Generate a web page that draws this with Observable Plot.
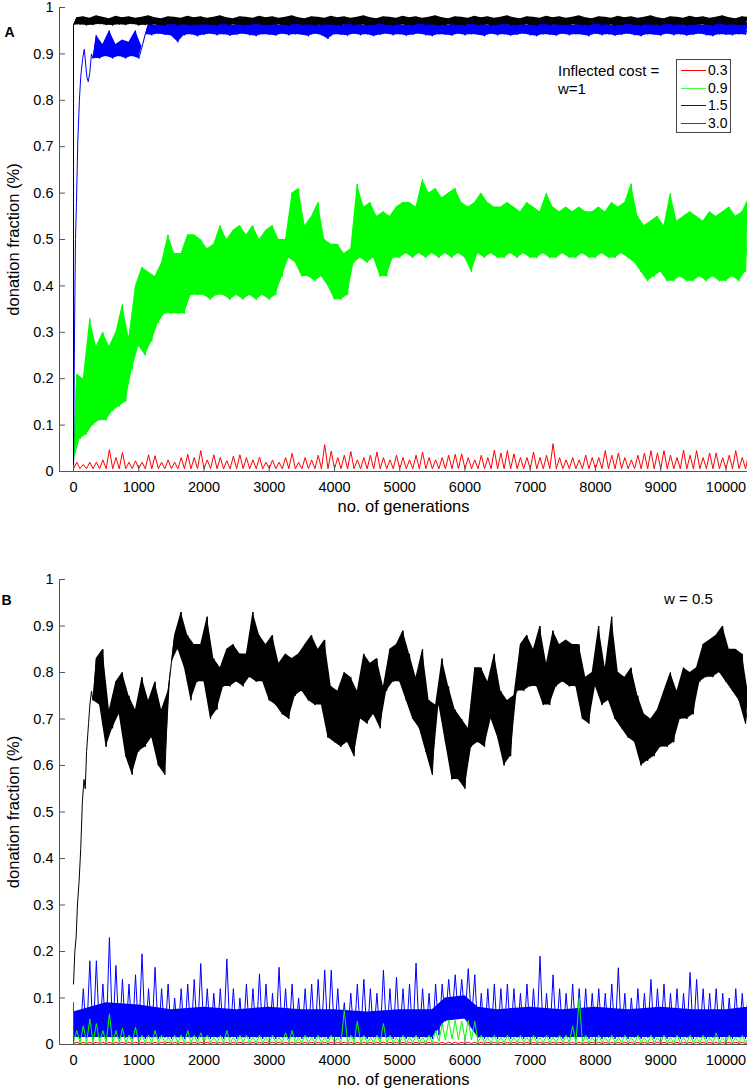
<!DOCTYPE html>
<html><head><meta charset="utf-8">
<script src="https://cdn.jsdelivr.net/npm/d3@7"></script>
<script src="https://cdn.jsdelivr.net/npm/@observablehq/plot@0.6"></script>
<style>
body{margin:0;background:#fff;font-family:"Liberation Sans",Arial,Helvetica,sans-serif;}
#wrap{position:relative;width:747px;height:1091px;overflow:hidden;}
#wrap svg{display:block;}
.t{position:absolute;white-space:nowrap;line-height:15px;color:#000;}
.legbox{position:absolute;border:1px solid #444;box-sizing:border-box;background:#fff;}
.lrow{position:absolute;height:0;}
.lrow .sw{position:absolute;left:4px;width:25px;top:0;height:1px;}
.lrow .lb{position:absolute;left:31px;top:-8px;font-size:14px;line-height:16px;}
</style></head><body><div id="wrap"></div>
<script>
// ---------- data ----------
const xTicks = [0,1000,2000,3000,4000,5000,6000,7000,8000,9000,10000];
const yTicks = [0,0.1,0.2,0.3,0.4,0.5,0.6,0.7,0.8,0.9,1];
const costLabels = ["0.3","0.9","1.5","3.0"];
const costColors = ["#ff0000","#00ff00","#0000ff","#000000"];

// Panel A (w=1): per 100-generation bin, low and high of the noisy trace
const redALo = 0.006;
const redAHi = [0.02,0.015,0.02,0.02,0.025,0.047,0.03,0.041,0.02,0.023,
 0.02,0.036,0.034,0.02,0.025,0.02,0.03,0.037,0.03,0.045,
 0.025,0.036,0.03,0.023,0.033,0.036,0.03,0.025,0.031,0.02,
 0.025,0.02,0.03,0.039,0.02,0.03,0.025,0.035,0.058,0.044,
 0.03,0.035,0.043,0.025,0.03,0.035,0.042,0.03,0.025,0.035,
 0.03,0.025,0.035,0.042,0.03,0.025,0.03,0.035,0.037,0.038,
 0.03,0.025,0.035,0.03,0.046,0.04,0.045,0.038,0.03,0.03,
 0.042,0.03,0.035,0.06,0.03,0.025,0.03,0.025,0.035,0.03,
 0.03,0.045,0.035,0.04,0.03,0.025,0.035,0.04,0.045,0.04,
 0.045,0.035,0.03,0.046,0.035,0.045,0.03,0.04,0.04,0.03,
 0.035,0.045,0.03,0.04];
const greenAHi = [0.21,0.20,0.33,0.27,0.30,0.27,0.30,0.36,0.29,0.40,
 0.44,0.43,0.42,0.45,0.51,0.47,0.47,0.51,0.51,0.50,
 0.48,0.49,0.53,0.50,0.52,0.53,0.51,0.53,0.50,0.52,
 0.53,0.50,0.50,0.60,0.61,0.53,0.55,0.58,0.50,0.49,
 0.49,0.47,0.48,0.62,0.57,0.58,0.55,0.56,0.55,0.57,
 0.58,0.58,0.57,0.63,0.60,0.61,0.59,0.60,0.61,0.58,
 0.57,0.58,0.60,0.58,0.57,0.57,0.58,0.57,0.56,0.58,
 0.57,0.56,0.60,0.57,0.56,0.57,0.56,0.57,0.56,0.56,
 0.57,0.56,0.58,0.57,0.58,0.62,0.55,0.53,0.54,0.55,
 0.53,0.60,0.54,0.55,0.56,0.55,0.54,0.56,0.55,0.56,
 0.57,0.55,0.56,0.59];
const greenALo = [0.02,0.07,0.08,0.10,0.11,0.11,0.13,0.14,0.15,0.22,
 0.27,0.25,0.28,0.32,0.34,0.34,0.34,0.34,0.38,0.38,
 0.38,0.37,0.38,0.38,0.37,0.38,0.37,0.38,0.37,0.38,
 0.37,0.38,0.42,0.46,0.45,0.42,0.42,0.41,0.42,0.40,
 0.37,0.37,0.38,0.45,0.46,0.45,0.46,0.42,0.42,0.46,
 0.46,0.47,0.46,0.47,0.46,0.47,0.46,0.47,0.46,0.47,
 0.46,0.43,0.47,0.46,0.47,0.46,0.46,0.47,0.46,0.47,
 0.46,0.46,0.47,0.46,0.46,0.47,0.46,0.46,0.47,0.46,
 0.46,0.47,0.46,0.46,0.47,0.46,0.45,0.43,0.41,0.42,
 0.43,0.41,0.41,0.42,0.41,0.41,0.42,0.41,0.42,0.41,
 0.41,0.42,0.41,0.43];
const blueAStartGen = [0,15,30,45,65,90,110,140,165,185,205,225,250,275];
const blueAStartVal = [0,0.30,0.50,0.58,0.71,0.80,0.85,0.89,0.91,0.88,0.85,0.84,0.86,0.90];
// from generation 300 on
const blueAHi = [0.94,0.92,0.95,0.92,0.93,0.925,0.95,0.915,
 0.965,0.962,0.966,0.963,0.967,0.964,0.965,0.962,0.966,0.964,
 0.963,0.967,0.965,0.962,0.966,0.964,0.968,0.963,0.965,0.966,
 0.962,0.965,0.967,0.963,0.964,0.966,0.962,0.965,0.967,0.964,
 0.963,0.966,0.965,0.962,0.967,0.964,0.965,0.963,0.966,0.962,
 0.965,0.967,0.963,0.964,0.966,0.965,0.962,0.967,0.964,0.963,
 0.966,0.965,0.962,0.964,0.967,0.963,0.965,0.966,0.962,0.965,
 0.964,0.967,0.963,0.965,0.966,0.962,0.964,0.967,0.965,0.963,
 0.966,0.962,0.965,0.964,0.967,0.963,0.965,0.966,0.962,0.964,
 0.967,0.965,0.963,0.966,0.964,0.962,0.965,0.967,0.963,0.965,
 0.964,0.966,0.965];
const blueALo = [0.89,0.89,0.895,0.89,0.895,0.89,0.895,0.89,
 0.942,0.940,0.943,0.941,0.939,0.925,0.940,0.942,0.938,0.941,
 0.943,0.940,0.942,0.939,0.941,0.943,0.940,0.938,0.942,0.941,
 0.939,0.943,0.940,0.942,0.941,0.938,0.943,0.940,0.932,0.942,
 0.941,0.939,0.943,0.940,0.942,0.938,0.941,0.943,0.940,0.942,
 0.939,0.941,0.943,0.940,0.938,0.942,0.941,0.939,0.943,0.940,
 0.942,0.941,0.938,0.943,0.940,0.942,0.939,0.941,0.943,0.940,
 0.938,0.942,0.941,0.939,0.943,0.940,0.942,0.941,0.938,0.943,
 0.940,0.942,0.939,0.941,0.943,0.940,0.938,0.942,0.941,0.939,
 0.943,0.940,0.942,0.939,0.941,0.943,0.940,0.938,0.942,0.941,
 0.940,0.942,0.941];
const blackAHi = [0.978,0.980,0.977,0.982,0.979,0.976,0.981,0.978,0.980,0.977,
 0.979,0.982,0.978,0.976,0.980,0.979,0.977,0.981,0.978,0.980,
 0.977,0.979,0.982,0.978,0.976,0.980,0.979,0.977,0.981,0.978,
 0.980,0.977,0.979,0.982,0.978,0.976,0.980,0.979,0.977,0.981,
 0.978,0.980,0.977,0.979,0.982,0.978,0.976,0.980,0.979,0.977,
 0.981,0.978,0.980,0.977,0.979,0.982,0.978,0.976,0.980,0.979,
 0.977,0.981,0.978,0.980,0.977,0.979,0.982,0.978,0.976,0.980,
 0.979,0.977,0.981,0.978,0.980,0.977,0.979,0.982,0.978,0.976,
 0.980,0.979,0.977,0.981,0.978,0.980,0.977,0.979,0.982,0.978,
 0.976,0.980,0.979,0.977,0.981,0.978,0.980,0.977,0.979,0.982,
 0.978,0.976,0.980,0.979];
const blackALo = [0.962,0.963,0.961,0.962,0.964,0.962,0.961,0.963,0.962,0.964,
 0.961,0.962,0.963,0.962,0.961,0.964,0.962,0.963,0.961,0.962,
 0.963,0.962,0.961,0.964,0.962,0.963,0.961,0.962,0.964,0.962,
 0.961,0.963,0.962,0.961,0.964,0.962,0.963,0.961,0.962,0.963,
 0.962,0.961,0.964,0.962,0.963,0.961,0.962,0.964,0.962,0.961,
 0.963,0.962,0.961,0.964,0.962,0.963,0.961,0.962,0.963,0.962,
 0.961,0.964,0.962,0.963,0.961,0.962,0.964,0.962,0.961,0.963,
 0.962,0.961,0.964,0.962,0.963,0.961,0.962,0.963,0.962,0.961,
 0.964,0.962,0.963,0.961,0.962,0.964,0.962,0.961,0.963,0.962,
 0.961,0.964,0.962,0.963,0.961,0.962,0.963,0.962,0.961,0.964,
 0.962,0.963,0.961,0.962];

// Panel B (w = 0.5)
const blackBStartGen = [0,20,40,60,85,110,135,160,180,200,230,250,275];
const blackBStartVal = [0.13,0.20,0.23,0.30,0.35,0.42,0.52,0.57,0.55,0.63,0.69,0.73,0.76];
const blackBLo = [0.74,0.73,0.64,0.68,0.71,0.62,0.58,0.63,0.64,0.66,
 0.60,0.58,0.82,0.85,0.81,0.74,0.78,0.78,0.70,0.72,
 0.77,0.77,0.78,0.77,0.79,0.78,0.78,0.74,0.73,0.71,
 0.70,0.75,0.76,0.74,0.73,0.73,0.66,0.65,0.64,0.65,
 0.62,0.70,0.69,0.71,0.68,0.76,0.78,0.78,0.74,0.70,
 0.68,0.63,0.58,0.73,0.65,0.57,0.57,0.55,0.64,0.65,
 0.64,0.70,0.66,0.60,0.62,0.76,0.76,0.77,0.77,0.73,
 0.73,0.77,0.78,0.77,0.77,0.70,0.69,0.77,0.73,0.74,
 0.70,0.68,0.66,0.65,0.60,0.61,0.62,0.64,0.64,0.65,
 0.70,0.70,0.71,0.78,0.79,0.79,0.80,0.78,0.76,0.74,
 0.69];
const blackBHi = [0.83,0.85,0.72,0.78,0.80,0.75,0.72,0.79,0.74,0.78,
 0.72,0.76,0.88,0.93,0.88,0.86,0.86,0.92,0.83,0.81,
 0.85,0.86,0.84,0.84,0.93,0.88,0.86,0.88,0.82,0.84,
 0.83,0.84,0.86,0.88,0.85,0.87,0.77,0.76,0.80,0.79,
 0.76,0.84,0.82,0.83,0.77,0.85,0.86,0.89,0.84,0.79,
 0.85,0.74,0.73,0.83,0.77,0.72,0.70,0.68,0.81,0.81,
 0.78,0.84,0.76,0.74,0.75,0.86,0.88,0.85,0.90,0.82,
 0.89,0.86,0.87,0.86,0.86,0.79,0.80,0.90,0.81,0.92,
 0.80,0.79,0.81,0.75,0.71,0.70,0.72,0.76,0.80,0.76,
 0.81,0.80,0.81,0.86,0.87,0.88,0.90,0.85,0.85,0.84,
 0.75];
const blueBHi = [0.07,0.12,0.18,0.18,0.13,0.23,0.17,0.14,0.13,0.15,
 0.195,0.12,0.166,0.12,0.13,0.10,0.12,0.13,0.14,0.174,
 0.12,0.11,0.12,0.184,0.12,0.10,0.13,0.12,0.152,0.13,
 0.11,0.166,0.12,0.13,0.10,0.12,0.13,0.14,0.16,0.16,
 0.12,0.09,0.11,0.13,0.14,0.12,0.11,0.16,0.12,0.145,
 0.12,0.13,0.175,0.12,0.11,0.13,0.13,0.14,0.15,0.14,
 0.163,0.15,0.11,0.12,0.13,0.12,0.13,0.12,0.11,0.13,
 0.12,0.19,0.11,0.15,0.12,0.11,0.13,0.12,0.12,0.11,
 0.12,0.11,0.13,0.165,0.11,0.10,0.12,0.11,0.14,0.12,
 0.13,0.11,0.12,0.11,0.155,0.14,0.12,0.11,0.12,0.11,
 0.10,0.12,0.11,0.145];
const blueBLo = [0.015,0.012,0.015,0.012,0.015,0.012,0.015,0.012,0.015,0.012,
 0.015,0.012,0.015,0.012,0.015,0.012,0.015,0.012,0.015,0.012,
 0.015,0.012,0.015,0.012,0.015,0.012,0.015,0.012,0.015,0.012,
 0.015,0.012,0.015,0.012,0.015,0.012,0.015,0.012,0.015,0.012,
 0.015,0.012,0.015,0.012,0.015,0.012,0.015,0.012,0.015,0.012,
 0.015,0.012,0.015,0.012,0.015,0.012,0.02,0.05,0.055,0.055,
 0.055,0.05,0.015,0.012,0.015,0.012,0.015,0.012,0.015,0.012,
 0.015,0.012,0.015,0.012,0.015,0.012,0.015,0.012,0.015,0.012,
 0.015,0.012,0.015,0.012,0.015,0.012,0.015,0.012,0.015,0.012,
 0.015,0.012,0.015,0.012,0.015,0.012,0.015,0.012,0.015,0.012,
 0.015,0.012,0.015,0.012];
// dense core of the blue w=0.5 trace, read every 500 generations
const blueBCoreGen = [0,500,1000,1500,2000,2500,3000,3500,4000,4500,5000,5500,5700,6000,6200,6500,7000,7500,8000,8500,9000,9500,10000,10330];
const blueBCoreLo  = [0.015,0.015,0.015,0.015,0.015,0.015,0.015,0.015,0.015,0.015,0.015,0.015,0.05,0.055,0.015,0.015,0.015,0.015,0.015,0.015,0.015,0.015,0.015,0.015];
const blueBCoreHi  = [0.07,0.09,0.085,0.075,0.08,0.075,0.08,0.075,0.075,0.07,0.075,0.075,0.10,0.105,0.08,0.075,0.08,0.075,0.08,0.075,0.08,0.075,0.075,0.08];
const greenBHi = [0.03,0.04,0.055,0.045,0.03,0.066,0.03,0.035,0.02,0.037,
 0.02,0.02,0.03,0.02,0.015,0.02,0.02,0.03,0.02,0.025,
 0.02,0.015,0.02,0.03,0.015,0.02,0.02,0.015,0.02,0.015,
 0.02,0.015,0.025,0.03,0.015,0.02,0.015,0.02,0.015,0.02,
 0.015,0.073,0.02,0.05,0.02,0.015,0.02,0.045,0.02,0.015,
 0.02,0.015,0.02,0.015,0.02,0.03,0.045,0.052,0.052,0.05,
 0.052,0.05,0.02,0.015,0.02,0.015,0.02,0.015,0.02,0.015,
 0.02,0.015,0.02,0.015,0.02,0.02,0.04,0.10,0.02,0.015,
 0.02,0.015,0.02,0.015,0.02,0.015,0.02,0.015,0.02,0.015,
 0.02,0.015,0.02,0.015,0.02,0.015,0.02,0.015,0.025,0.015,
 0.02,0.015,0.02,0.015];
const greenBLo = [0.004,0.004,0.004,0.004,0.004,0.004,0.004,0.004,0.004,0.004,
 0.004,0.004,0.004,0.004,0.004,0.004,0.004,0.004,0.004,0.004,
 0.004,0.004,0.004,0.004,0.004,0.004,0.004,0.004,0.004,0.004,
 0.004,0.004,0.004,0.004,0.004,0.004,0.004,0.004,0.004,0.004,
 0.004,0.004,0.004,0.004,0.004,0.004,0.004,0.004,0.004,0.004,
 0.004,0.004,0.004,0.004,0.004,0.004,0.006,0.01,0.012,0.01,
 0.012,0.01,0.004,0.004,0.004,0.004,0.004,0.004,0.004,0.004,
 0.004,0.004,0.004,0.004,0.004,0.004,0.004,0.004,0.004,0.004,
 0.004,0.004,0.004,0.004,0.004,0.004,0.004,0.004,0.004,0.004,
 0.004,0.004,0.004,0.004,0.004,0.004,0.004,0.004,0.004,0.004,
 0.004,0.004,0.004,0.004];
const redBStart = 0.09;
const redBLo = 0.002;
const redBHi = 0.005;

// ---------- helpers ----------
const STEP = 100;
const NBINS = greenAHi.length;
function zig(start, lo, hi, n) {
  const out = [];
  for (let i = 0; i < n; i++) {
    const g = start + i * STEP;
    out.push({g, v: Array.isArray(lo) ? lo[i] : lo});
    out.push({g: g + STEP / 2, v: Array.isArray(hi) ? hi[i] : hi});
  }
  return out;
}
function lead(gens, vals) { return gens.map((g, i) => ({g, v: vals[i]})); }
// ribbon: bottom edge through the low points, top edge through the high points
function ribbon(start, lo, hi) {
  return lo.map((l, i) => ({x1: start + i * STEP, y1: l, x2: start + i * STEP + STEP / 2, y2: hi[i]}));
}

const redA = zig(0, redALo, redAHi, redAHi.length);
const greenA = zig(0, greenALo, greenAHi, greenAHi.length);
const blueA = lead(blueAStartGen, blueAStartVal).concat(zig(300, blueALo, blueAHi, blueAHi.length));
const blackA = lead([0], [0]).concat(zig(0, blackALo, blackAHi, blackAHi.length));
const blackB = lead(blackBStartGen, blackBStartVal).concat(zig(300, blackBLo, blackBHi, blackBHi.length));
const blueB = zig(0, blueBLo, blueBHi, blueBHi.length);
const blueBCore = blueBCoreGen.map((g, i) => ({x1: g, y1: blueBCoreLo[i], x2: g, y2: blueBCoreHi[i]}));
const greenB = zig(0, greenBLo, greenBHi, greenBHi.length);
const redB = lead([0], [redBStart]).concat(zig(0, redBLo, redBHi, NBINS));

// ---------- layout ----------
const FONT = '"Liberation Sans", Arial, Helvetica, sans-serif';
const W = 747, ML = 59, MR = 0;
const xDomain = [-215, 10330];
const axisColor = "#555";

function panel({height, mt, mb, letter, letterDx, letterDy, lines, ribbons}) {
  const innerW = W - ML - MR, innerH = height - mt - mb;
  return Plot.plot({
    width: W, height, marginLeft: ML, marginRight: MR, marginTop: mt, marginBottom: mb,
    x: {domain: xDomain}, y: {domain: [0, 1]},
    style: {fontFamily: FONT, fontSize: "14.5px", background: "white", color: "#000", overflow: "visible"},
    marks: [
      Plot.ruleX([xDomain[0]], {stroke: axisColor}),
      Plot.ruleY([0], {stroke: axisColor}),
      ...lines.flatMap(s => {
        const r = ribbons.filter(b => b.before === s.key).map(b =>
          Plot.area(b.data, {x1: "x1", y1: "y1", x2: "x2", y2: "y2", fill: b.color, curve: "linear", clip: true}));
        return [...r, Plot.line(s.data, {x: "g", y: "v", stroke: s.color, strokeWidth: 1, clip: true})];
      }),
      Plot.tickY(yTicks, {y: d => d, stroke: axisColor, insetRight: innerW - 6}),
      Plot.tickX(xTicks, {x: d => d, stroke: axisColor, insetTop: innerH - 6}),
      Plot.axisY(yTicks, {tickSize: 0, tickPadding: 6, tickFormat: d => String(d), label: null, fontSize: 14.5}),
      Plot.axisX(xTicks, {tickSize: 0, tickPadding: 10, tickFormat: d => String(d), label: null, fontSize: 14.5}),
      Plot.text(["no. of generations"], {frameAnchor: "bottom", dy: 35, textAnchor: "middle", lineAnchor: "middle", fontSize: 16.5}),
      Plot.text(["donation fraction (%)"], {frameAnchor: "left", dx: -46, rotate: -90, textAnchor: "middle", lineAnchor: "middle", fontSize: 16.5}),
      Plot.text([letter], {frameAnchor: "top-left", dx: letterDx, dy: letterDy, textAnchor: "middle", lineAnchor: "middle", fontWeight: "bold", fontSize: 14})
    ]
  });
}

const wrap = document.getElementById("wrap");
wrap.appendChild(panel({
  height: 520, mt: 7, mb: 49, letter: "A", letterDx: -50, letterDy: 25,
  ribbons: [
    {before: "g", data: ribbon(0, greenALo, greenAHi), color: costColors[1]},
    {before: "b", data: ribbon(300, blueALo, blueAHi), color: costColors[2]},
    {before: "k", data: ribbon(0, blackALo, blackAHi), color: costColors[3]}
  ],
  lines: [
    {key: "r", data: redA, color: costColors[0]},
    {key: "g", data: greenA, color: costColors[1]},
    {key: "b", data: blueA, color: costColors[2]},
    {key: "k", data: blackA, color: costColors[3]}
  ]
}));
wrap.appendChild(panel({
  height: 571, mt: 59, mb: 47, letter: "B", letterDx: -53, letterDy: 21,
  ribbons: [
    {before: "k", data: ribbon(300, blackBLo, blackBHi), color: costColors[3]},
    {before: "b", data: blueBCore, color: costColors[2]}
  ],
  lines: [
    {key: "k", data: blackB, color: costColors[3]},
    {key: "b", data: blueB, color: costColors[2]},
    {key: "g", data: greenB, color: costColors[1]},
    {key: "r", data: redB, color: costColors[0]}
  ]
}));

// ---------- annotations & legend ----------
function addText(txt, left, top, size) {
  const d = document.createElement("div");
  d.className = "t"; d.textContent = txt;
  d.style.left = left + "px"; d.style.top = top + "px"; d.style.fontSize = size + "px";
  wrap.appendChild(d);
}
addText("Inflected cost =", 558, 63, 15);
addText("w=1", 558, 81, 15);
addText("w = 0.5", 664, 591, 15);
const box = document.createElement("div");
box.className = "legbox";
Object.assign(box.style, {left: "676px", top: "59px", width: "55px", height: "74px"});
wrap.appendChild(box);
const rowY = [10, 27.5, 45, 62.5];
const legendSwatch = ["#ff0000", "#40ff40", "#0000ff", "#444444"];
costLabels.forEach((lab, i) => {
  const r = document.createElement("div");
  r.className = "lrow"; r.style.top = rowY[i] + "px"; r.style.left = "0px"; r.style.width = "100%";
  const sw = document.createElement("div"); sw.className = "sw"; sw.style.background = legendSwatch[i];
  const lb = document.createElement("div"); lb.className = "lb"; lb.textContent = lab;
  r.appendChild(sw); r.appendChild(lb); box.appendChild(r);
});
</script></body></html>
